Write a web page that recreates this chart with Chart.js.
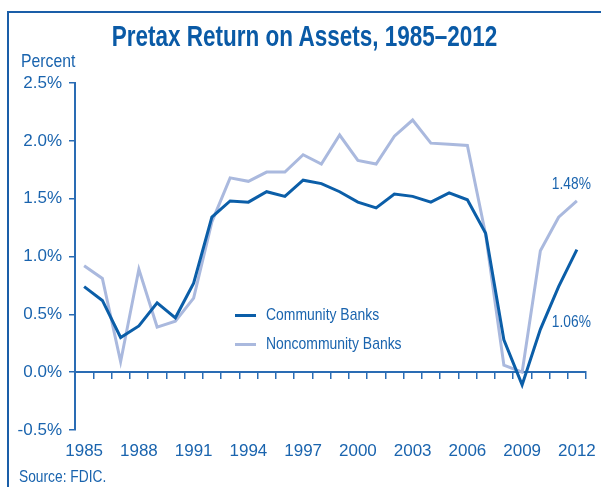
<!DOCTYPE html>
<html>
<head>
<meta charset="utf-8">
<script src="https://cdn.jsdelivr.net/npm/chart.js@4.4.1/dist/chart.umd.min.js"></script>
<style>
  body { margin: 0; background: #fff; }
  #wrap { position: relative; width: 601px; height: 487px; overflow: hidden;
    font-family: "Liberation Sans", Arial, sans-serif; color: #1a64ae; }
  #frame { position: absolute; left: 7px; top: 11px; width: 700px; height: 600px;
    border-top: 2px solid #1a5ea8; border-left: 2px solid #1a5ea8; }
  canvas { position: absolute; left: 0; top: 0; }
  .narrow { position: absolute; white-space: nowrap; transform-origin: 0 0; }
  #title { left: 4px; top: 21px; width: 601px; text-align: center; font-size: 30px; line-height: 30px;
    font-weight: bold; color: #0a5aa6; transform: scaleX(0.75); transform-origin: 300.5px 0; }
  #percent { left: 21px; top: 50.7px; font-size: 19px; line-height: 19px; transform: scaleX(0.83); }
  #source { left: 19px; top: 467.7px; font-size: 17px; line-height: 17px; transform: scaleX(0.81); }
  #legend { position: absolute; left: 235px; top: 306.4px; }
  .item { position: relative; height: 29px; }
  .swatch { position: absolute; left: 0; top: 8px; width: 21px; height: 3px; }
  .label { left: 31px; top: 0; font-size: 17px; line-height: 17px; transform: scaleX(0.82); }
</style>
</head>
<body>
<div id="wrap">
  <div id="frame"></div>
  <canvas id="chart" width="601" height="487"></canvas>
  <div id="title" class="narrow">Pretax Return on Assets, 1985–2012</div>
  <div id="percent" class="narrow">Percent</div>
  <div id="legend"></div>
  <div id="source" class="narrow">Source: FDIC.</div>
</div>
<script>
const years = [1985, 1986, 1987, 1988, 1989, 1990, 1991, 1992, 1993, 1994, 1995, 1996, 1997, 1998,
  1999, 2000, 2001, 2002, 2003, 2004, 2005, 2006, 2007, 2008, 2009, 2010, 2011, 2012];
const community = [0.74, 0.62, 0.30, 0.40, 0.60, 0.47, 0.77, 1.34, 1.48, 1.47, 1.56, 1.52, 1.66, 1.63,
  1.56, 1.47, 1.42, 1.54, 1.52, 1.47, 1.55, 1.49, 1.20, 0.28, -0.11, 0.37, 0.74, 1.06];
const noncommunity = [0.92, 0.81, 0.09, 0.89, 0.39, 0.44, 0.64, 1.30, 1.68, 1.65, 1.73, 1.73, 1.88, 1.80,
  2.05, 1.83, 1.80, 2.04, 2.18, 1.98, 1.97, 1.96, 1.19, 0.06, 0.00, 1.05, 1.34, 1.48];
const endLabels = ["1.06%", "1.48%"];

const FONT = "'Liberation Sans', Arial, sans-serif";
const TEXT = "#1a64ae";
const AXIS = "#2a6cb4";
const DARK = "#0b5ea8";
const LIGHT = "#aab9de";

// end-of-line value labels, placed from the last point of each series
const endLabelPlugin = {
  id: "endLabels",
  afterDatasetsDraw(chart) {
    const ctx = chart.ctx;
    const shift = [73, -16];
    chart.data.datasets.forEach((ds, i) => {
      const pts = chart.getDatasetMeta(i).data;
      const p = pts[pts.length - 1];
      ctx.save();
      ctx.translate(p.x + 14, p.y + shift[i]);
      ctx.scale(0.86, 1);
      ctx.font = "16px " + FONT;
      ctx.fillStyle = TEXT;
      ctx.textAlign = "right";
      ctx.textBaseline = "middle";
      ctx.fillText(endLabels[i], 0, 0);
      ctx.restore();
    });
  }
};

const chart = new Chart(document.getElementById("chart"), {
  type: "line",
  data: {
    labels: years,
    datasets: [
      { label: "Community Banks", data: community, borderColor: DARK, backgroundColor: DARK,
        borderWidth: 3, pointRadius: 0, tension: 0 },
      { label: "Noncommunity Banks", data: noncommunity, borderColor: LIGHT, backgroundColor: LIGHT,
        borderWidth: 3, pointRadius: 0, tension: 0 },
    ],
  },
  options: {
    responsive: false,
    animation: false,
    devicePixelRatio: 1,
    layout: { padding: { left: 8, right: 15, top: 83, bottom: 0 } },
    plugins: {
      legend: { display: false },
      tooltip: { enabled: false },
      title: { display: false },
    },
    scales: {
      x: {
        type: "category",
        position: "bottom",
        offset: true,
        grid: { display: false },
        border: { display: false },
        ticks: {
          autoSkip: false, maxRotation: 0, padding: 3, color: TEXT,
          font: { family: FONT, size: 17 },
          callback: (v, i) => (i % 3 === 0 ? String(years[i]) : ""),
        },
        afterFit: (s) => { s.height = 57; s.paddingLeft = 0; s.paddingRight = 0; },
      },
      x0: {
        type: "category",
        axis: "x",
        position: { y: 0 },
        offset: true,
        grid: { offset: true, drawOnChartArea: false, drawTicks: true, tickLength: 6, color: AXIS, lineWidth: 1.5 },
        border: { display: true, color: AXIS, width: 2 },
        ticks: { display: false },
      },
      y: {
        min: -0.5,
        max: 2.5,
        grid: { drawOnChartArea: false, drawTicks: true, tickLength: 6, color: AXIS, lineWidth: 1.5 },
        border: { display: true, color: AXIS, width: 2 },
        ticks: {
          stepSize: 0.5, padding: 7, color: TEXT,
          font: { family: FONT, size: 17 },
          callback: (v) => v.toFixed(1) + "%",
        },
        afterFit: (s) => { s.width = 67; },
      },
    },
  },
  plugins: [endLabelPlugin],
});

// legend built from the chart's own datasets
const legend = document.getElementById("legend");
chart.data.datasets.forEach((ds) => {
  const item = document.createElement("div");
  item.className = "item";
  const sw = document.createElement("span");
  sw.className = "swatch";
  sw.style.background = ds.borderColor;
  const lb = document.createElement("span");
  lb.className = "label narrow";
  lb.textContent = ds.label;
  item.appendChild(sw);
  item.appendChild(lb);
  legend.appendChild(item);
});
</script>
</body>
</html>
